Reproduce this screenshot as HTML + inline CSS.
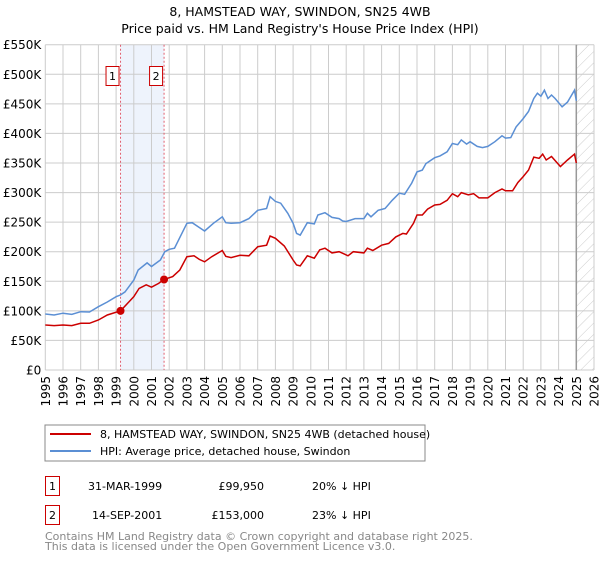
<!DOCTYPE html>
<html><head><meta charset="utf-8"><style>
body{margin:0;background:#fff;}
svg text{font-family:"DejaVu Sans","Liberation Sans",sans-serif;}
</style></head><body>
<svg width="600" height="560" xmlns="http://www.w3.org/2000/svg" id="chart">
<defs><pattern id="hatch" width="8" height="8" patternUnits="userSpaceOnUse" patternTransform="rotate(45)"><line x1="0" y1="0" x2="0" y2="8" stroke="#ccc" stroke-width="1"/></pattern></defs>
<text x="300" y="16" text-anchor="middle" font-size="12.5">8, HAMSTEAD WAY, SWINDON, SN25 4WB</text>
<text x="300" y="33" text-anchor="middle" font-size="12.5">Price paid vs. HM Land Registry's House Price Index (HPI)</text>
<g id="grid"></g><g id="marks"></g><g id="axes"></g>
<rect x="45" y="425" width="380" height="36" fill="#fff" stroke="#888"/>
<line x1="50" y1="434" x2="91" y2="434" stroke="#cc0000" stroke-width="2"/>
<text x="100" y="438" font-size="11">8, HAMSTEAD WAY, SWINDON, SN25 4WB (detached house)</text>
<line x1="50" y1="451" x2="91" y2="451" stroke="#5b8fd4" stroke-width="2"/>
<text x="100" y="455" font-size="11">HPI: Average price, detached house, Swindon</text>
<g font-size="11">
<rect x="45.5" y="476.5" width="14" height="19" fill="#fff" stroke="#cc0000"/>
<text x="52.5" y="490" text-anchor="middle">1</text>
<text x="88" y="490">31-MAR-1999</text>
<text x="264" y="490" text-anchor="end">£99,950</text>
<text x="312" y="490">20% ↓ HPI</text>
<rect x="45.5" y="505.5" width="14" height="19" fill="#fff" stroke="#cc0000"/>
<text x="52.5" y="519" text-anchor="middle">2</text>
<text x="92" y="519">14-SEP-2001</text>
<text x="264" y="519" text-anchor="end">£153,000</text>
<text x="312" y="519">23% ↓ HPI</text>
</g>
<text x="45" y="540" font-size="11" fill="#888">Contains HM Land Registry data © Crown copyright and database right 2025.</text>
<text x="45" y="550" font-size="11" fill="#888">This data is licensed under the Open Government Licence v3.0.</text>
</svg>
<script>
const hpiYears=[1995,1995.5,1996,1996.5,1997,1997.5,1998,1998.5,1999,1999.25,1999.5,2000,2000.25,2000.75,2001,2001.5,2001.75,2002,2002.3,2003,2003.3,2003.7,2004,2004.5,2005,2005.2,2005.5,2006,2006.5,2007,2007.5,2007.7,2008,2008.3,2008.7,2009,2009.2,2009.4,2009.8,2010.2,2010.4,2010.8,2011.2,2011.6,2011.8,2012,2012.5,2013,2013.2,2013.4,2013.8,2014.2,2014.6,2015,2015.3,2015.7,2016,2016.3,2016.5,2017,2017.3,2017.7,2018,2018.3,2018.5,2018.8,2019,2019.4,2019.7,2020,2020.4,2020.8,2021,2021.3,2021.6,2022,2022.3,2022.6,2022.8,2023,2023.2,2023.4,2023.6,2023.8,2024.2,2024.5,2024.9,2025];
const hpiValues=[94.7,93,96,94,98.6,98,107,115,124,127,132,152,169,181,175,186,200,204,206,248,249,241,235,248,259,249,248,249,256,270,273,293,285,282,265,248,231,228,249,247,262,266,258,256,252,251,256,256,265,259,270,273,287,299,297,316,335,338,349,359,362,369,383,381,389,382,386,378,376,378,386,396,392,393,411,425,437,459,468,463,473,459,465,459,445,453,473,455];
const priceYears=[1995,1995.5,1996,1996.5,1997,1997.5,1998,1998.5,1999.25,2000,2000.3,2000.7,2001,2001.4,2001.7,2002.2,2002.6,2003,2003.4,2003.7,2004,2004.4,2005,2005.2,2005.5,2006,2006.5,2007,2007.5,2007.7,2008,2008.5,2009,2009.2,2009.4,2009.8,2010.2,2010.5,2010.8,2011.2,2011.6,2011.9,2012.1,2012.4,2013,2013.2,2013.5,2014,2014.4,2014.8,2015.2,2015.4,2015.8,2016,2016.3,2016.6,2017,2017.3,2017.7,2018,2018.3,2018.5,2018.9,2019.2,2019.5,2020,2020.4,2020.8,2021,2021.4,2021.7,2022,2022.3,2022.6,2022.9,2023.1,2023.3,2023.6,2024.1,2024.5,2024.9,2025];
const priceValues=[76,75,76,75,79,79,84.5,93,99.95,124,138,144,140,146.5,153,158,169,191.6,193,187,183,191.6,202,192,190,194,193,208.5,211,226.5,222.6,209.6,186,177.5,176,193,189,203,206,198,200,196,193,200,198,206,202,211,214,225,231,230,248,262,262,272,279,280,287,298,293,300,296,298,291,291,300,306,303,303,317,327,338,360,358,365,355,361,344,355,365,350];
const saleYears=[1999.25,2001.71];
const saleValues=[99.95,153];
const saleLabels=["1","2"];
const yTicks=[0,50,100,150,200,250,300,350,400,450,500,550];
const yTickLabels=["£0","£50K","£100K","£150K","£200K","£250K","£300K","£350K","£400K","£450K","£500K","£550K"];
const xTicks=[];for(let y=1995;y<=2026;y++)xTicks.push(y);

const L=45.3,R=594,T=44.7,B=370;
const X=y=>L+(y-1995)/(2026-1995)*(R-L);
const Y=v=>B-v/550*(B-T);
const NS="http://www.w3.org/2000/svg";
function mk(p,tag,a){const e=document.createElementNS(NS,tag);for(const k in a)e.setAttribute(k,a[k]);p.appendChild(e);return e;}
const grid=document.getElementById('grid'),marks=document.getElementById('marks'),axes=document.getElementById('axes');

const shade=mk(grid,'rect',{x:X(saleYears[0]),y:T,width:X(saleYears[1])-X(saleYears[0]),height:B-T,fill:'#eef3fc'});


const hatch=mk(grid,'rect',{x:X(2025),y:T,width:R-X(2025),height:B-T,fill:'url(#hatch)'});



yTicks.forEach((v,i)=>{
 const g=mk(grid,'line',{x1:L,x2:R,y1:Y(v),y2:Y(v),stroke:'#cccccc','stroke-width':1});
 
 
 const t=mk(axes,'text',{x:L-4,y:Y(v)+4.5,'text-anchor':'end','font-size':'12'});
 t.textContent=yTickLabels[i];
 
 
});
xTicks.forEach(yr=>{
 const g=mk(grid,'line',{x1:X(yr),x2:X(yr),y1:T,y2:B,stroke:'#cccccc','stroke-width':1});
 
 
 const t=mk(axes,'text',{x:0,y:0,'text-anchor':'end','font-size':'12',transform:`translate(${X(yr)+4.5},${B+6}) rotate(-90)`});
 t.textContent=String(yr);
 
 
});
const nowLine=mk(grid,'line',{x1:X(2025),x2:X(2025),y1:T,y2:B,stroke:'#999','stroke-width':1.5});



saleYears.forEach((yr,i)=>{
 const l=mk(marks,'line',{x1:X(yr),x2:X(yr),y1:T,y2:B,stroke:'#e06070','stroke-width':1,'stroke-dasharray':'2,2'});
 
 
 const r=mk(marks,'rect',{x:X(yr)-14.5,y:66.5,width:13,height:19,fill:'#fff',stroke:'#cc0000'});
 
 
 const t=mk(marks,'text',{x:X(yr)-8,y:80,'text-anchor':'middle','font-size':'11'});
 t.textContent=saleLabels[i];
 
 
});

const hp=mk(marks,'path',{d:hpiYears.map((y,i)=>(i?'L':'M')+X(y).toFixed(1)+','+Y(hpiValues[i]).toFixed(1)).join(''),fill:'none',stroke:'#5b8fd4','stroke-width':1.5});


const pp=mk(marks,'path',{d:priceYears.map((y,i)=>(i?'L':'M')+X(y).toFixed(1)+','+Y(priceValues[i]).toFixed(1)).join(''),fill:'none',stroke:'#cc0000','stroke-width':1.5});


saleYears.forEach((yr,i)=>{
 const c=mk(marks,'circle',{cx:X(yr),cy:Y(saleValues[i]),r:4,fill:'#cc0000'});
 
 
});
</script>
</body></html>
